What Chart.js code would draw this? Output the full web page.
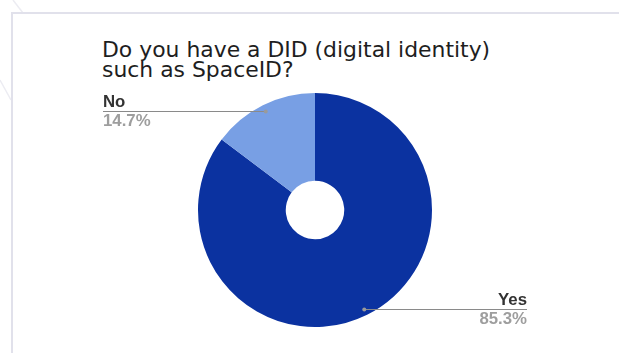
<!DOCTYPE html>
<html>
<head>
<meta charset="utf-8">
<script src="https://cdn.jsdelivr.net/npm/chart.js@4.4.1/dist/chart.umd.min.js"></script>
<style>
  html, body { margin: 0; padding: 0; background: #ffffff; }
  #wrap { position: relative; width: 619px; height: 353px; overflow: hidden; background: #ffffff; }
  #deco { position: absolute; left: 0; top: 0; }
  #card {
    position: absolute; left: 11px; top: 12px; width: 640px; height: 380px;
    background: #ffffff; border: 2px solid #e1e1eb; box-sizing: border-box;
  }
  #title {
    position: absolute; left: 102px; top: 40px;
    font-family: "DejaVu Sans", Verdana, sans-serif; font-size: 21.9px; line-height: 19.5px;
    color: #1e1e1e; white-space: nowrap;
  }
  #chart { position: absolute; left: 0; top: 0; }
</style>
</head>
<body>
<div id="wrap">
  <svg id="deco" width="619" height="353">
    <line x1="13" y1="0" x2="23" y2="13" stroke="#ececf2" stroke-width="1.5"/>
    <line x1="0" y1="80" x2="11" y2="100" stroke="#ececf2" stroke-width="1.5"/>
  </svg>
  <div id="card"></div>
  <div id="title">Do you have a DID (digital identity)<br>such as SpaceID?</div>
  <canvas id="chart" width="619" height="353"></canvas>
</div>
<script>
// Survey answers and their shares (percent)
const answers = ['Yes', 'No'];
const shares = [85.3, 14.7];
const sliceColors = ['#0b32a0', '#789fe4'];

// Draws each slice's name and share beside the pie with a leader line
const leaderLabels = {
  id: 'leaderLabels',
  afterDatasetsDraw(chart) {
    const ctx = chart.ctx;
    const meta = chart.getDatasetMeta(0);
    meta.data.forEach((arc, i) => {
      const { x, y, startAngle, endAngle, outerRadius } = arc.getProps(
        ['x', 'y', 'startAngle', 'endAngle', 'outerRadius'], true);
      const mid = (startAngle + endAngle) / 2;
      const r = outerRadius * 0.945;
      const px = x + Math.cos(mid) * r;
      const py = y + Math.sin(mid) * r;
      const right = Math.cos(mid) >= 0;
      const ex = right ? x + 212 : x - 212;
      const ly = Math.round(py) + 0.5;

      ctx.save();
      ctx.strokeStyle = '#8a8a8a';
      ctx.lineWidth = 1;
      ctx.beginPath();
      ctx.moveTo(px, ly);
      ctx.lineTo(ex, ly);
      ctx.stroke();
      ctx.fillStyle = '#9a9a9a';
      ctx.beginPath();
      ctx.arc(px, ly, 2, 0, Math.PI * 2);
      ctx.fill();

      ctx.textAlign = right ? 'right' : 'left';
      ctx.textBaseline = 'alphabetic';
      ctx.font = 'bold 16.8px "Liberation Sans", Arial, sans-serif';
      ctx.fillStyle = '#333333';
      ctx.fillText(answers[i], ex, ly - 5);
      ctx.fillStyle = '#9e9e9e';
      ctx.fillText(shares[i].toFixed(1) + '%', ex, ly + 14);
      ctx.restore();
    });
  }
};

new Chart(document.getElementById('chart'), {
  type: 'doughnut',
  data: {
    labels: answers,
    datasets: [{
      data: shares,
      backgroundColor: sliceColors,
      borderWidth: 0
    }]
  },
  options: {
    responsive: false,
    animation: false,
    cutout: '25%',
    layout: { padding: { left: 198, right: 187, top: 93, bottom: 26 } },
    plugins: {
      legend: { display: false },
      tooltip: { enabled: false },
      title: { display: false }
    }
  },
  plugins: [leaderLabels]
});
</script>
</body>
</html>
